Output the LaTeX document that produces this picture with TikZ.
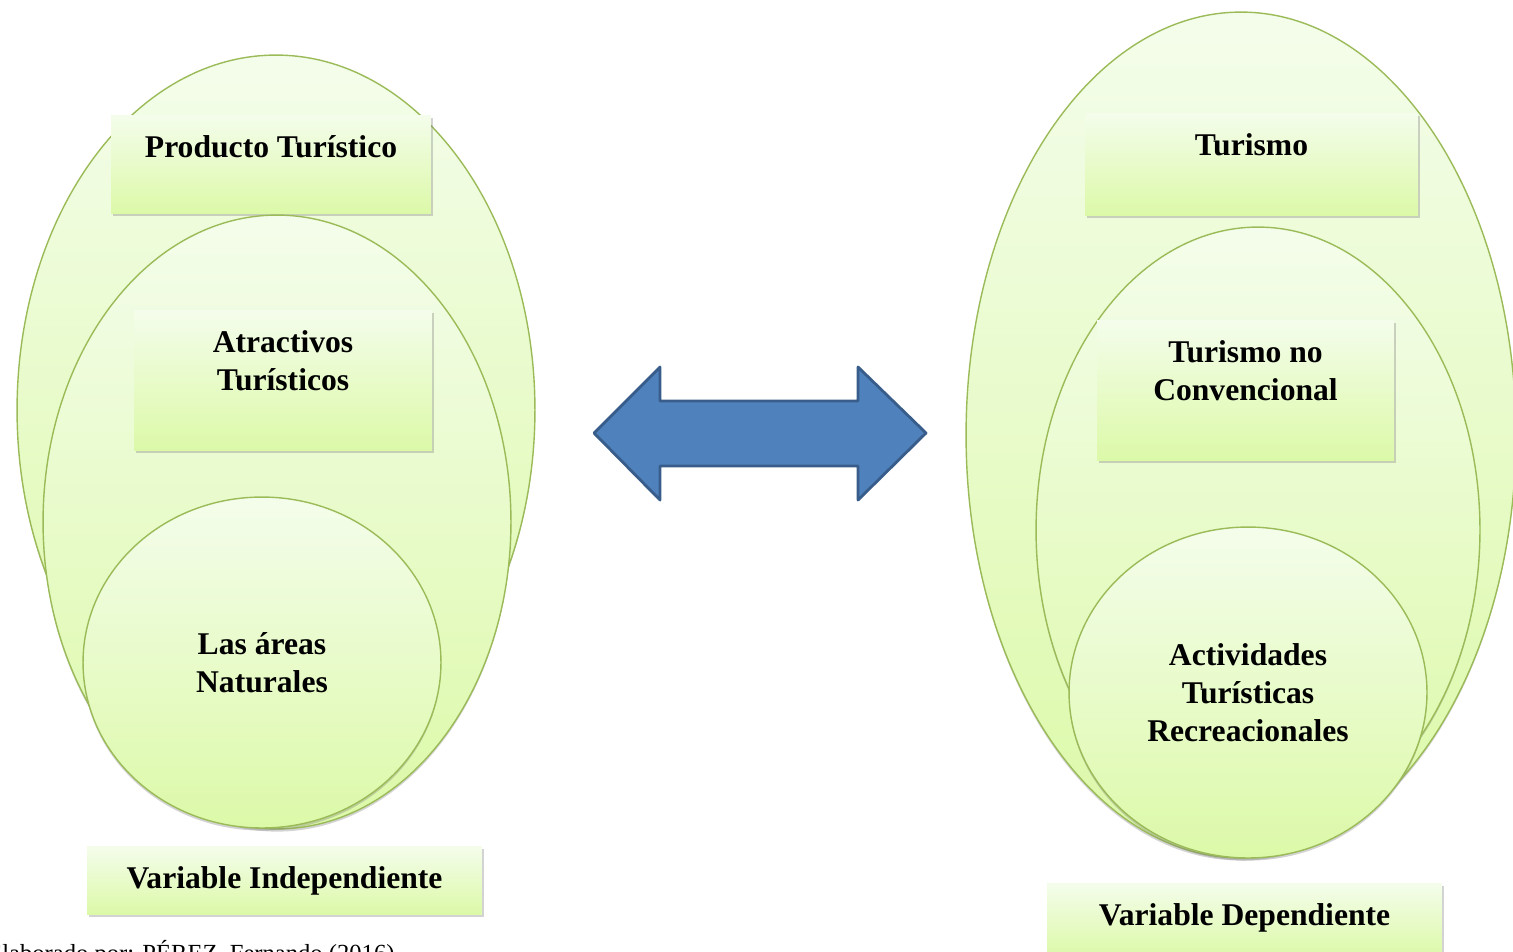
\documentclass[tikz,border=0pt]{standalone}
\usepackage{fontspec}
\setmainfont{Liberation Serif}
\usetikzlibrary{shapes.geometric,shadows}
\definecolor{ovalline}{HTML}{9BBB59}
\definecolor{ovaltop}{HTML}{F4FDEB}
\definecolor{ovalbottom}{HTML}{DCF9A8}
\definecolor{arrowfill}{HTML}{4F81BD}
\definecolor{arrowline}{HTML}{385D8A}

\begin{document}
\begin{tikzpicture}
  [x=0.02cm,y=-0.02cm,
   every node/.style={font=\fontsize{18}{21.6}\selectfont\bfseries,align=center},
   oval/.style={ellipse,draw=ovalline,line width=0.8pt,top color=ovaltop,bottom color=ovalbottom,inner sep=0pt,
     drop shadow={shadow xshift=0pt,shadow yshift=-1.5pt,opacity=0.35}},
   tag/.style={anchor=north,inner sep=0pt,text height=0.84cm,top color=ovaltop,bottom color=ovalbottom,
     drop shadow={shadow xshift=1pt,shadow yshift=-1.5pt,opacity=0.35}}]
  \useasboundingbox (0,0) rectangle (1513,951);

  % variable independiente
  \node[oval,minimum width=10.36cm,minimum height=14.2cm] (prod) at (276,410) {};
  \node[tag,minimum width=6.4cm,text depth=1.12cm] (prodbox) at (271,115) {Producto Turístico};
  \node[oval,minimum width=9.36cm,minimum height=12.28cm] (atr) at (277,522) {};
  \node[tag,minimum width=5.96cm,text height=1.6cm,text depth=1.2cm] (atrbox) at (283,310) {Atractivos\\Turísticos};
  \node[oval,minimum width=7.16cm,minimum height=6.62cm] (nat) at (262,662.5) {Las áreas\\Naturales};
  \node[tag,minimum width=7.9cm,text depth=0.52cm] (vind) at (284.5,846) {Variable Independiente};

  % variable dependiente
  \node[oval,minimum width=11cm,minimum height=16.92cm] (tur) at (1241,435) {};
  \node[tag,minimum width=6.66cm,text depth=1.2cm] (turbox) at (1251.5,113) {Turismo};
  \node[oval,minimum width=8.88cm,minimum height=12.12cm] (conv) at (1258,530) {};
  \node[tag,minimum width=5.94cm,text height=1.6cm,text depth=1.2cm] (convbox) at (1245.5,320) {Turismo no\\Convencional};
  \node[oval,minimum width=7.16cm,minimum height=6.62cm] (act) at (1248,692.5) {Actividades\\Turísticas\\Recreacionales};
  \node[tag,minimum width=7.9cm,text depth=0.62cm] (vdep) at (1244.5,883) {Variable Dependiente};

  % doble flecha
  \draw[draw=arrowline,fill=arrowfill,line width=1.6pt,line join=round]
    (594,433) -- (660,367) -- (660,401) -- (858,401) -- (858,367) -- (926,433)
    -- (858,500) -- (858,466) -- (660,466) -- (660,500) -- cycle;

  \node[font=\fontsize{14}{16.8}\selectfont,anchor=base west,inner sep=0pt] (src) at (-13,961)
    {Elaborado por: PÉREZ, Fernando (2016)};
\end{tikzpicture}
\end{document}
